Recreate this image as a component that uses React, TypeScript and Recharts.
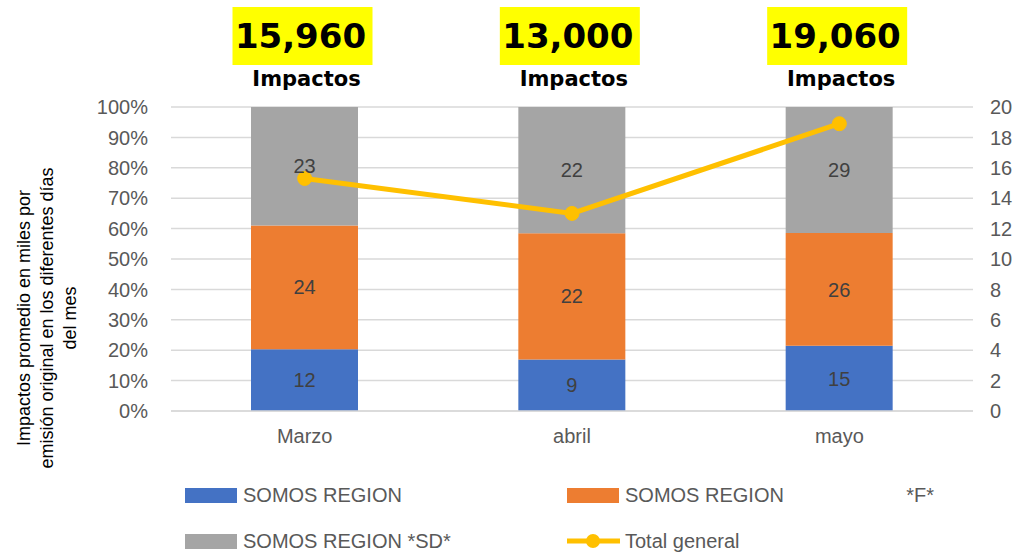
import {
  ComposedChart,
  Bar,
  Line,
  XAxis,
  YAxis,
  CartesianGrid,
  LabelList,
} from 'recharts';

const months = ['Marzo', 'abril', 'mayo'];
const somosRegion = [12, 9, 15];
const somosRegionF = [24, 22, 26];
const somosRegionSD = [23, 22, 29];
const totalGeneral = [15.3, 13.0, 18.9];
const impactos = ['15,960', '13,000', '19,060'];

const leftTicks = [0, 0.1, 0.2, 0.3, 0.4, 0.5, 0.6, 0.7, 0.8, 0.9, 1];
const rightTicks = [0, 2, 4, 6, 8, 10, 12, 14, 16, 18, 20];

const FONT = '"Liberation Sans", Arial, sans-serif';

const legendItems = [
  { name: 'SOMOS REGION', color: '#4472C4', kind: 'box', x: 185, y: 495 },
  { name: 'SOMOS REGION                      *F*', color: '#ED7D31', kind: 'box', x: 567, y: 495 },
  { name: 'SOMOS REGION *SD*', color: '#A5A5A5', kind: 'box', x: 185, y: 541 },
  { name: 'Total general', color: '#FFC000', kind: 'line', x: 567, y: 541 },
];

// yellow headline box + "Impactos" above each column
const renderHeadline = (props: any) => {
  const { x, y, width, value } = props;
  const cx = Number(x) + Number(width) / 2;
  const top = Number(y);
  return (
    <g>
      <rect x={cx - 72} y={top - 100} width={140} height={58} fill="#FFFF00" />
      <text
        x={cx - 4}
        y={top - 59}
        textAnchor="middle"
        fontFamily='"DejaVu Sans", sans-serif'
        fontWeight="bold"
        fontSize={34}
        fill="#000"
      >
        {value}
      </text>
      <text
        x={cx + 2}
        y={top - 21}
        textAnchor="middle"
        fontFamily='"DejaVu Sans", sans-serif'
        fontWeight="bold"
        fontSize={21}
        fill="#000"
      >
        Impactos
      </text>
    </g>
  );
};

export default function App() {
  // 100% stacked: each segment as share of the column total
  const data = months.map((m, i) => {
    const sum = somosRegion[i] + somosRegionF[i] + somosRegionSD[i];
    return {
      month: m,
      a: somosRegion[i],
      f: somosRegionF[i],
      sd: somosRegionSD[i],
      aPct: somosRegion[i] / sum,
      fPct: somosRegionF[i] / sum,
      sdPct: somosRegionSD[i] / sum,
      total: totalGeneral[i],
      impactos: impactos[i],
    };
  });

  return (
    <div
      style={{
        position: 'absolute',
        left: 0,
        top: 0,
        width: 1024,
        height: 556,
        background: '#fff',
        fontFamily: FONT,
      }}
    >
      <ComposedChart
        width={1024}
        height={556}
        data={data}
        margin={{ top: 107, right: 0, bottom: 105, left: 0 }}
        style={{ fontFamily: FONT }}
      >
        <CartesianGrid yAxisId="left" vertical={false} stroke="#d9d9d9" strokeWidth={1.5} />
        <XAxis
          dataKey="month"
          height={40}
          axisLine={{ stroke: '#d9d9d9', strokeWidth: 1.5 }}
          tickLine={false}
          tickMargin={12}
          tick={{ fill: '#595959', fontSize: 20 }}
        />
        <YAxis
          yAxisId="left"
          width={171}
          domain={[0, 1]}
          ticks={leftTicks}
          tickFormatter={(v: number) => `${Math.round(v * 100)}%`}
          axisLine={false}
          tickLine={false}
          tickMargin={17}
          tick={{ fill: '#595959', fontSize: 20 }}
        />
        <YAxis
          yAxisId="right"
          orientation="right"
          width={51}
          domain={[0, 20]}
          ticks={rightTicks}
          interval={0}
          axisLine={false}
          tickLine={false}
          tickMargin={11}
          tick={{ fill: '#595959', fontSize: 20 }}
        />
        <Bar yAxisId="left" dataKey="aPct" stackId="s" fill="#4472C4" barSize={107} isAnimationActive={false}>
          <LabelList dataKey="a" position="center" fill="#404040" fontSize={20} />
        </Bar>
        <Bar yAxisId="left" dataKey="fPct" stackId="s" fill="#ED7D31" barSize={107} isAnimationActive={false}>
          <LabelList dataKey="f" position="center" fill="#404040" fontSize={20} />
        </Bar>
        <Bar yAxisId="left" dataKey="sdPct" stackId="s" fill="#A5A5A5" barSize={107} isAnimationActive={false}>
          <LabelList dataKey="sd" position="center" fill="#404040" fontSize={20} />
          <LabelList dataKey="impactos" content={renderHeadline} />
        </Bar>
        <Line
          yAxisId="right"
          dataKey="total"
          stroke="#FFC000"
          strokeWidth={5}
          dot={{ r: 7, fill: '#FFC000', stroke: '#FFC000', strokeWidth: 1 }}
          isAnimationActive={false}
        />
      </ComposedChart>

      {/* rotated y-axis title */}
      <svg
        width={100}
        height={556}
        style={{ position: 'absolute', left: 0, top: 0 }}
      >
        <text
          transform="rotate(-90, 47, 318)"
          x={47}
          y={318}
          textAnchor="middle"
          fontFamily={FONT}
          fontSize={18}
          fill="#000"
        >
          <tspan x={47} dy={-17}>Impactos promedio en miles por</tspan>
          <tspan x={47} dy={23}>emisión original en los diferentes días</tspan>
          <tspan x={47} dy={23}>del mes</tspan>
        </text>
      </svg>

      {/* legend */}
      {legendItems.map((it) => (
        <div
          key={it.name}
          style={{
            position: 'absolute',
            left: it.x,
            top: it.y - 12,
            height: 24,
            display: 'flex',
            alignItems: 'center',
            whiteSpace: 'pre',
            color: '#595959',
            fontSize: 20,
          }}
        >
          {it.kind === 'box' ? (
            <div style={{ width: 52, height: 15, background: it.color, marginRight: 6 }} />
          ) : (
            <svg width={53} height={20} style={{ marginRight: 5 }}>
              <line x1={0} y1={10} x2={53} y2={10} stroke={it.color} strokeWidth={5} />
              <circle cx={26} cy={10} r={7} fill={it.color} />
            </svg>
          )}
          <span>{it.name}</span>
        </div>
      ))}
    </div>
  );
}
